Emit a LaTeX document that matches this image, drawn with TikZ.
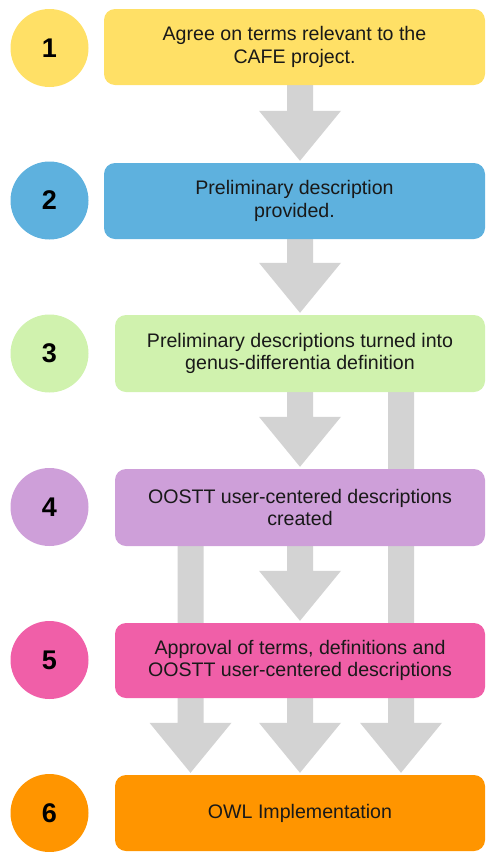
\documentclass[tikz,border=0pt]{standalone}
\usepackage{fontspec}
\setmainfont{Liberation Sans}
\usetikzlibrary{backgrounds,calc}
\definecolor{cyellow}{HTML}{FFE066}
\definecolor{cblue}{HTML}{5EB1DE}
\definecolor{cgreen}{HTML}{D0F2AE}
\definecolor{cpurple}{HTML}{CE9FD9}
\definecolor{cpink}{HTML}{F05FA8}
\definecolor{corange}{HTML}{FF9500}
\definecolor{arrowgray}{HTML}{D3D3D3}
\tikzset{
  stepbox/.style={rectangle, rounded corners=11pt, inner sep=0pt, align=center,
    font=\fontsize{19.6}{22.5}\selectfont, text=black!90},
  numcirc/.style={circle, minimum size=78pt, inner sep=0pt,
    font=\fontsize{27}{30}\selectfont\bfseries, text=black},
}
\newcommand\fatarrow[2]{%
  \fill[arrowgray] let \p1=(#1), \p2=(#2) in
    (\x1-13pt,\y1) -- (\x1+13pt,\y1) -- (\x1+13pt,\y2+52pt) -- (\x1+41pt,\y2+52pt)
    -- (\x1,\y2+2pt) -- (\x1-41pt,\y2+52pt) -- (\x1-13pt,\y2+52pt) -- cycle;}
\begin{document}
\begin{tikzpicture}[x=1pt,y=-1pt]
\useasboundingbox (0,0) rectangle (486,852);
% columns
\coordinate (cL) at (190.5,0);
\coordinate (cC) at (300,0);
\coordinate (cR) at (401,0);
% circles
\node[numcirc, fill=cyellow] (n1) at (49.5,48) {1};
\node[numcirc, fill=cblue]   (n2) at (49.5,200.5) {2};
\node[numcirc, fill=cgreen]  (n3) at (49.5,353.5) {3};
\node[numcirc, fill=cpurple] (n4) at (49.5,507) {4};
\node[numcirc, fill=cpink]   (n5) at (49.5,660) {5};
\node[numcirc, fill=corange] (n6) at (49.5,813) {6};
% boxes
\node[stepbox, fill=cyellow, minimum width=381pt, minimum height=76pt] (b1) at (294.5,47)
  {Agree on terms relevant to the\\CAFE project.};
\node[stepbox, fill=cblue, minimum width=381pt, minimum height=76pt] (b2) at (294.5,201)
  {Preliminary description\\provided.};
\node[stepbox, fill=cgreen, minimum width=370pt, minimum height=77pt] (b3) at (300,353.5)
  {Preliminary descriptions turned into\\genus-differentia definition};
\node[stepbox, fill=cpurple, minimum width=370pt, minimum height=77pt] (b4) at (300,507.5)
  {OOSTT user-centered descriptions\\created};
\node[stepbox, fill=cpink, minimum width=370pt, minimum height=75pt] (b5) at (300,660.5)
  {Approval of terms, definitions and\\OOSTT user-centered descriptions};
\node[stepbox, fill=corange, minimum width=370pt, minimum height=76pt] (b6) at (300,813)
  {OWL Implementation};
% arrows
\begin{scope}[on background layer]
\fatarrow{b1.south -| cC}{b2.north -| cC}
\fatarrow{b2.south -| cC}{b3.north -| cC}
\fatarrow{b3.south -| cC}{b4.north -| cC}
\fatarrow{b4.south -| cC}{b5.north -| cC}
\fatarrow{b5.south -| cC}{b6.north -| cC}
\fatarrow{b3.south -| cR}{b6.north -| cR}
\fatarrow{b4.south -| cL}{b6.north -| cL}
\end{scope}
\end{tikzpicture}
\end{document}
